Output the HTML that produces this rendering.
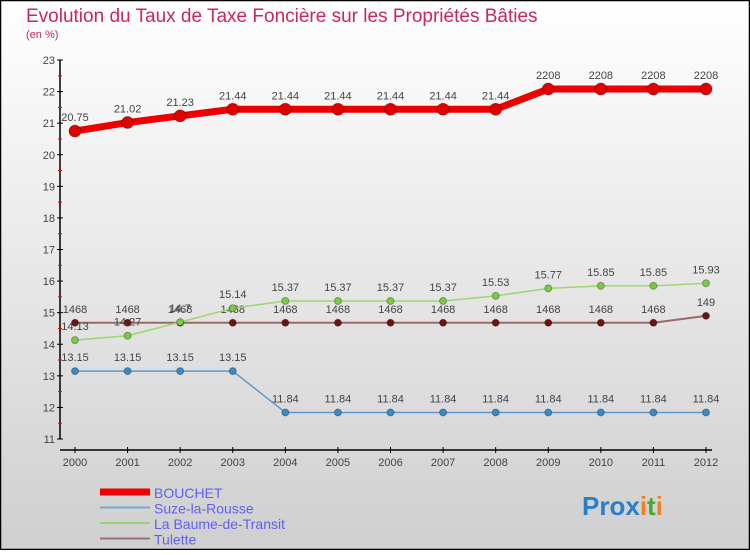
<!DOCTYPE html>
<html><head><meta charset="utf-8"><style>
html,body{margin:0;padding:0;}
body{width:750px;height:550px;overflow:hidden;font-family:"Liberation Sans",sans-serif;}
</style></head><body>
<svg id="chart" width="750" height="550" xmlns="http://www.w3.org/2000/svg">
<defs><linearGradient id="bg" x1="0" y1="0" x2="0" y2="1"><stop offset="0" stop-color="#ffffff"/><stop offset="1" stop-color="#cfcfcf"/></linearGradient></defs>
<rect x="0" y="0" width="750" height="550" fill="url(#bg)"/>
<rect x="0.5" y="0.5" width="749" height="549" fill="none" stroke="#000" stroke-width="1.5"/>
<text x="26" y="22" font-size="19" fill="#c8285a">Evolution du Taux de Taxe Foncière sur les Propriétés Bâties</text>
<text x="26" y="38" font-size="11" fill="#c8285a">(en %)</text>
<g id="axes"></g>
<g id="series"></g>
<g id="legend"></g>
<g font-size="26" font-weight="bold" font-family="Liberation Sans, sans-serif">
<text x="582" y="515"><tspan fill="#2a7fc8">Pro</tspan><tspan fill="#2a7fc8">x</tspan><tspan fill="#f08020">i</tspan><tspan fill="#44aa33">t</tspan><tspan fill="#f08020">i</tspan></text>
</g>
</svg>
<script>
const years = [2000,2001,2002,2003,2004,2005,2006,2007,2008,2009,2010,2011,2012];
const yTicks = [11,12,13,14,15,16,17,18,19,20,21,22,23];
const bouchet = [20.75,21.02,21.23,21.44,21.44,21.44,21.44,21.44,21.44,22.08,22.08,22.08,22.08];
const bouchetLabels = ["20.75","21.02","21.23","21.44","21.44","21.44","21.44","21.44","21.44","2208","2208","2208","2208"];
const suze = [13.15,13.15,13.15,13.15,11.84,11.84,11.84,11.84,11.84,11.84,11.84,11.84,11.84];
const suzeLabels = ["13.15","13.15","13.15","13.15","11.84","11.84","11.84","11.84","11.84","11.84","11.84","11.84","11.84"];
const baume = [14.13,14.27,14.7,15.14,15.37,15.37,15.37,15.37,15.53,15.77,15.85,15.85,15.93];
const baumeLabels = ["14.13","14.27","14.7","15.14","15.37","15.37","15.37","15.37","15.53","15.77","15.85","15.85","15.93"];
const tulette = [14.68,14.68,14.68,14.68,14.68,14.68,14.68,14.68,14.68,14.68,14.68,14.68,14.9];
const tuletteLabels = ["1468","1468","1468","1468","1468","1468","1468","1468","1468","1468","1468","1468","149"];
const seriesNames = ["BOUCHET","Suze-la-Rousse","La Baume-de-Transit","Tulette"];

const NS="http://www.w3.org/2000/svg";
const X0=75,X1=706,Y0=439,Y1=60,YMIN=11,YMAX=23;
function xs(i){return X0+(X1-X0)*i/(years.length-1);}
function ys(v){return Y0-(v-YMIN)/(YMAX-YMIN)*(Y0-Y1);}
function mk(tag,parent,attrs){const e=document.createElementNS(NS,tag);for(const k in attrs)e.setAttribute(k,attrs[k]);parent.appendChild(e);return e;}
const axes=document.getElementById('axes');
let a=mk('line',axes,{x1:60,y1:Y1,x2:60,y2:Y0,stroke:'#000','stroke-width':1.5});


a=mk('line',axes,{x1:60,y1:450,x2:712,y2:450,stroke:'#000','stroke-width':1.5});


yTicks.forEach((t,i)=>{
  const y=ys(t);
  mk('line',axes,{x1:57,y1:y,x2:63,y2:y,stroke:'#000'});
  const tx=mk('text',axes,{x:55,y:y+4,'font-size':11,'text-anchor':'end',fill:'#444'});
  tx.textContent=t;
  
  
  if(i<yTicks.length-1){const ym=ys(t+0.5);mk('line',axes,{x1:58,y1:ym,x2:62,y2:ym,stroke:'#e00'});}
});
years.forEach((yr,i)=>{
  const x=xs(i);
  mk('line',axes,{x1:x,y1:447,x2:x,y2:453,stroke:'#000'});
  const tx=mk('text',axes,{x:x,y:466,'font-size':11,'text-anchor':'middle',fill:'#444'});
  tx.textContent=yr;
  
  
});
const sg=document.getElementById('series');
function drawSeries(vals,labels,color,dot,w,r,name){
  const g=mk('g',sg,{});
  
  
  mk('polyline',g,{points:vals.map((v,i)=>xs(i)+','+ys(v)).join(' '),fill:'none',stroke:color,'stroke-width':w,'stroke-linejoin':'round'});
  vals.forEach((v,i)=>{
    const c=mk('circle',g,{cx:xs(i),cy:ys(v),r:r,fill:dot,stroke:'rgba(0,0,0,0.3)'});
    
    
    const t=mk('text',g,{x:xs(i),y:ys(v)-10,'font-size':11,'text-anchor':'middle',fill:'#444'});
    t.textContent=labels[i];
  });
}
drawSeries(tulette,tuletteLabels,'#9a6a6a','#6b1414',2,3.5,'series-tulette');
drawSeries(suze,suzeLabels,'#5a9ad0','#3a8ac8',1.5,3.5,'series-suze-la-rousse');
drawSeries(baume,baumeLabels,'#9ad870','#78cc40',1.5,3.5,'series-la-baume-de-transit');
drawSeries(bouchet,bouchetLabels,'#ee0000','#e00000',7,6,'series-bouchet');
const lg=document.getElementById('legend');
const lcol=['#ee0000','#7aa8cc','#99d070','#9a7070'];
const lw=[7,2,2,2];
seriesNames.forEach((n,i)=>{
  const y=492+i*15.5;
  const g=mk('g',lg,{});
  
  
  mk('line',g,{x1:100,y1:y,x2:150,y2:y,stroke:lcol[i],'stroke-width':lw[i]});
  const t=mk('text',g,{x:154,y:y+6,'font-size':14,fill:'#6060ee'});
  t.textContent=n;
});
</script>
</body></html>
